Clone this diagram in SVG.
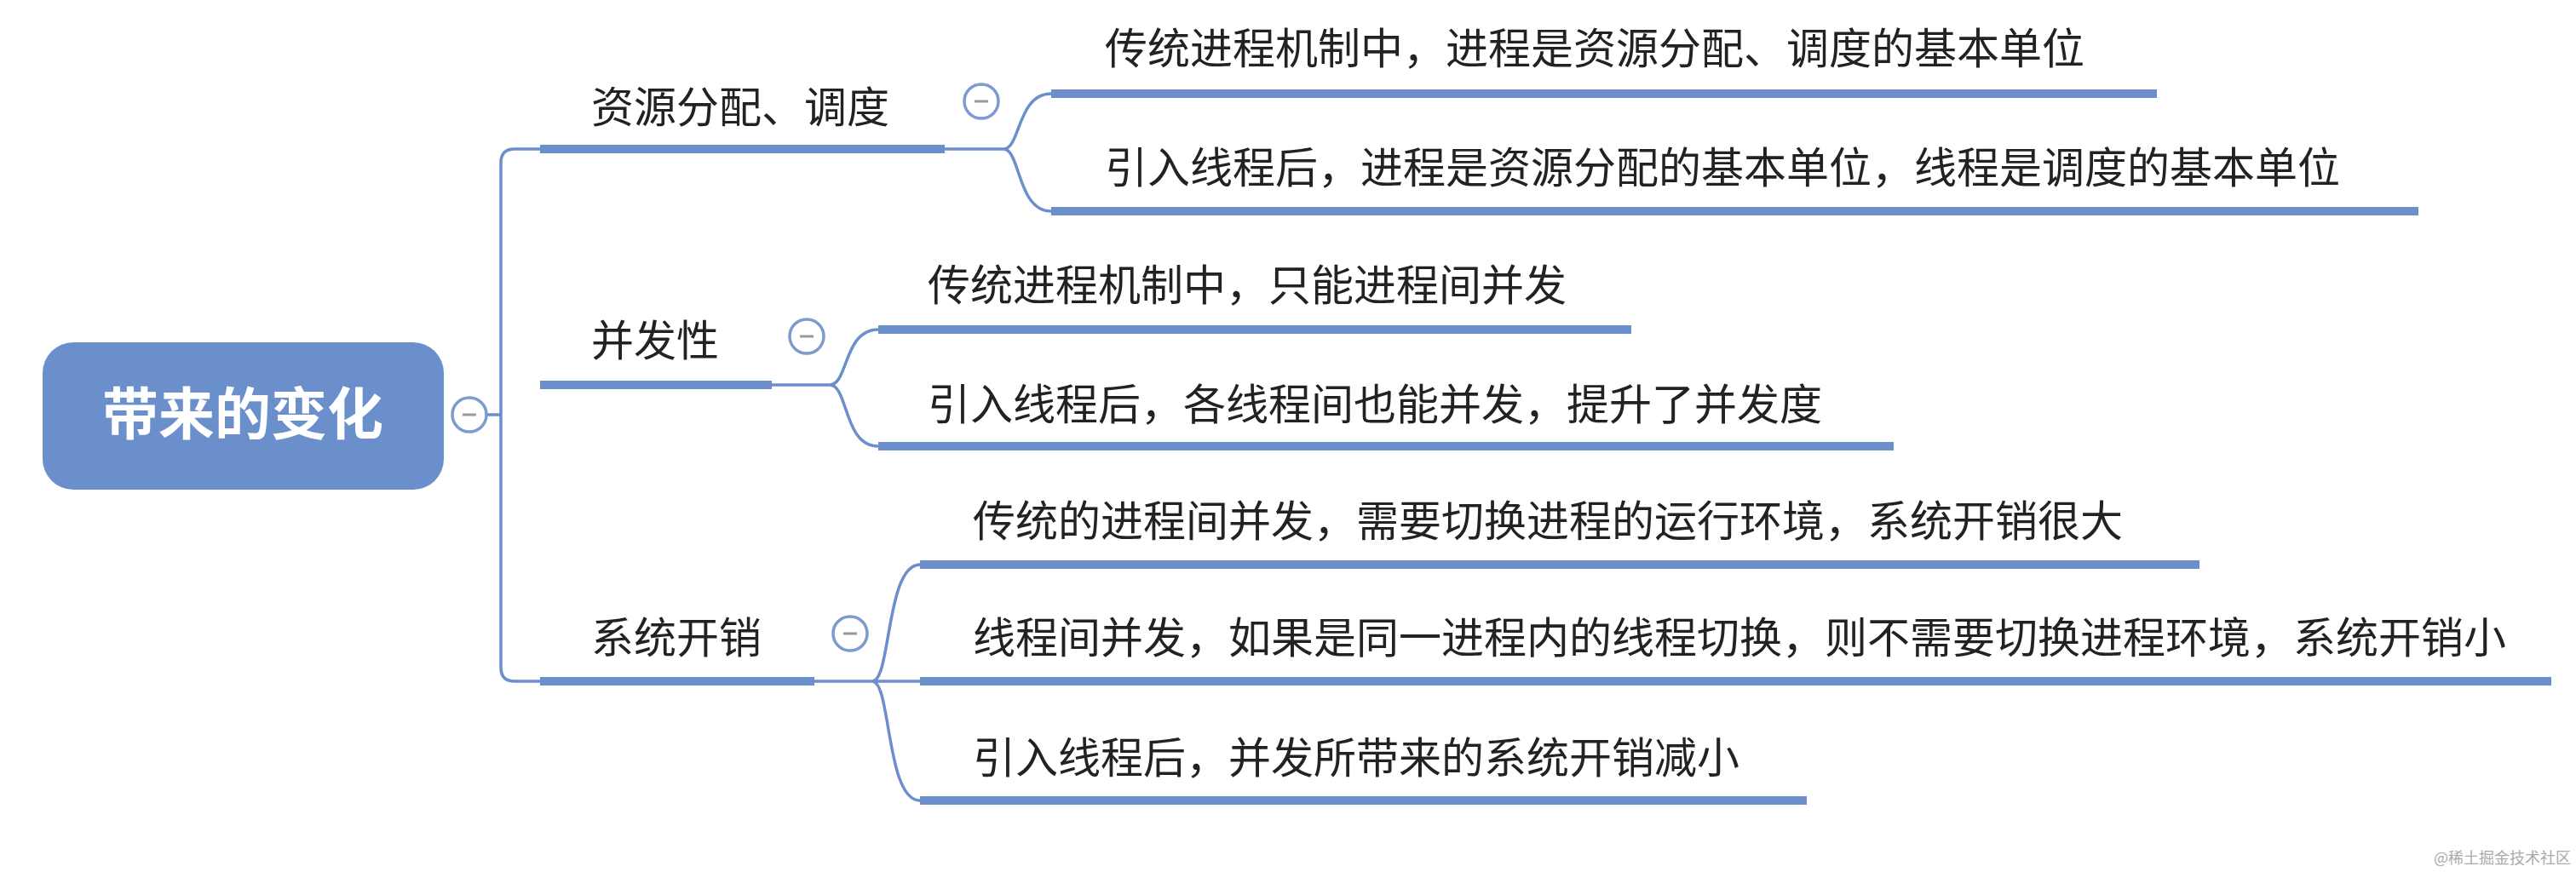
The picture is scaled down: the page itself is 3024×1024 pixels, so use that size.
<svg xmlns="http://www.w3.org/2000/svg" width="3024" height="1024" viewBox="0 0 3024 1024">
<style>
.t{font-family:"Noto Sans CJK SC","Noto Sans",sans-serif;font-size:50px;fill:#222}
.ul{stroke:#6a8fcb;stroke-width:10;stroke-linecap:butt}
.c{fill:none;stroke:#6a8fcb;stroke-width:3.5}
.btn circle{fill:#fff;stroke:#7d9bd0;stroke-width:3.5}
.btn line{stroke:#999;stroke-width:3}
</style>
<rect width="3024" height="1024" fill="#fff"/>
<g id="connectors">
<path class="c" d="M571 487 H588 M634 175 H604 Q588 175 588 191 V784 Q588 800 604 800 H634"/>
<path class="c" d="M1109 175 H1178 M1178 175 C1198 175 1194 110 1234 110 M1178 175 C1198 175 1194 248 1234 248"/>
<path class="c" d="M906 452 H974 M974 452 C996 452 990 387 1031 387 M974 452 C996 452 990 524 1031 524"/>
<path class="c" d="M956 800 H1080 M1024 800 C1046 800 1040 663 1080 663 M1024 800 C1046 800 1040 940 1080 940"/>
</g>
<g id="root">
<rect x="50" y="402" width="471" height="173" rx="36" fill="#6a8fcb"/>
<text x="285" y="510" text-anchor="middle" style="font-family:'Noto Sans CJK SC',sans-serif;font-size:66px;font-weight:bold;fill:#fff">带来的变化</text>
<g class="btn"><circle cx="551" cy="487" r="20"/><line x1="543" y1="487" x2="559" y2="487"/></g>
</g>
<g id="b1">
<text class="t" x="694" y="144">资源分配、调度</text>
<line class="ul" x1="634" y1="175" x2="1109" y2="175"/>
<g class="btn"><circle cx="1152" cy="119" r="20"/><line x1="1144" y1="119" x2="1160" y2="119"/></g>
</g>
<g id="b1c1"><text class="t" x="1297" y="75">传统进程机制中，进程是资源分配、调度的基本单位</text><line class="ul" x1="1234" y1="110" x2="2532" y2="110"/></g>
<g id="b1c2"><text class="t" x="1297" y="215">引入线程后，进程是资源分配的基本单位，线程是调度的基本单位</text><line class="ul" x1="1234" y1="248" x2="2839" y2="248"/></g>
<g id="b2">
<text class="t" x="694" y="418">并发性</text>
<line class="ul" x1="634" y1="452" x2="906" y2="452"/>
<g class="btn"><circle cx="947" cy="395" r="20"/><line x1="939" y1="395" x2="955" y2="395"/></g>
</g>
<g id="b2c1"><text class="t" x="1089" y="353">传统进程机制中，只能进程间并发</text><line class="ul" x1="1031" y1="387" x2="1915" y2="387"/></g>
<g id="b2c2"><text class="t" x="1089" y="493">引入线程后，各线程间也能并发，提升了并发度</text><line class="ul" x1="1031" y1="524" x2="2223" y2="524"/></g>
<g id="b3">
<text class="t" x="694" y="767">系统开销</text>
<line class="ul" x1="634" y1="800" x2="956" y2="800"/>
<g class="btn"><circle cx="998" cy="744" r="20"/><line x1="990" y1="744" x2="1006" y2="744"/></g>
</g>
<g id="b3c1"><text class="t" x="1142" y="630">传统的进程间并发，需要切换进程的运行环境，系统开销很大</text><line class="ul" x1="1080" y1="663" x2="2582" y2="663"/></g>
<g id="b3c2"><text class="t" x="1142" y="767">线程间并发，如果是同一进程内的线程切换，则不需要切换进程环境，系统开销小</text><line class="ul" x1="1080" y1="800" x2="2995" y2="800"/></g>
<g id="b3c3"><text class="t" x="1142" y="908">引入线程后，并发所带来的系统开销减小</text><line class="ul" x1="1080" y1="940" x2="2121" y2="940"/></g>
<text x="3018" y="1014" text-anchor="end" style="font-family:'Noto Sans CJK SC',sans-serif;font-size:18px;fill:#aaa">@稀土掘金技术社区</text>
</svg>
